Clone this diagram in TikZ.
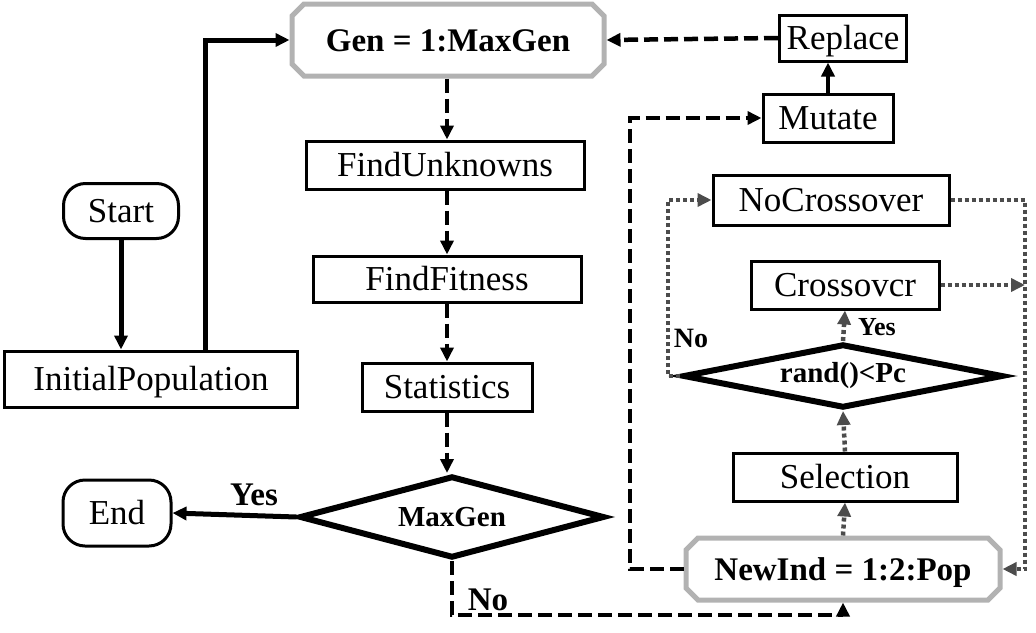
\documentclass[tikz,border=0pt]{standalone}
\usepackage{fontspec}
\setmainfont{Liberation Serif}
\usetikzlibrary{arrows.meta,shapes.geometric,shapes.misc}
\begin{document}
\begin{tikzpicture}[x=1pt,y=-1pt,
  every node/.style={inner sep=0pt, font=\fontsize{35}{40}\selectfont},
  pbox/.style={draw, line width=3pt, rectangle, text height=25pt, text depth=3pt},
  loopbox/.style={chamfered rectangle, chamfered rectangle xsep=6pt, chamfered rectangle ysep=6pt, draw=gray!60, line width=5pt, font=\bfseries\fontsize{33}{38}\selectfont, text height=24pt, text depth=2pt},
  term/.style={draw, line width=3pt, rounded corners=22pt, text height=25pt, text depth=3pt},
  dec/.style={diamond, draw, line width=6pt, font=\bfseries\fontsize{29}{32}\selectfont},
  tip/.style={-{Triangle[length=14pt,width=13pt]}},
  solidarrow/.style={line width=5pt, tip},
  dasharrow/.style={line width=4.5pt, dash pattern=on 14pt off 6pt, tip},
  dotarrow/.style={line width=4.5pt, draw=black!70, dash pattern=on 4pt off 3pt, tip},
  lbl/.style={font=\bfseries\fontsize{33}{36}\selectfont}
]
\useasboundingbox (0,0) rectangle (1036,632);

\node[loopbox, minimum width=312pt, minimum height=72pt] (gen) at (448,40) {Gen = 1:MaxGen};
\node[pbox, minimum width=127pt, minimum height=46pt] (rep) at (843,38) {Replace};
\node[pbox, minimum width=130pt, minimum height=48pt] (mut) at (828,118) {Mutate};
\node[pbox, minimum width=278pt, minimum height=48pt] (fu) at (445,165) {FindUnknowns};
\node[term, minimum width=115pt, minimum height=55pt] (start) at (121,211) {Start};
\node[pbox, minimum width=236pt, minimum height=50pt] (noc) at (831,200) {NoCrossover};
\node[pbox, minimum width=268pt, minimum height=46pt] (ff) at (447,279) {FindFitness};
\node[pbox, minimum width=188pt, minimum height=48pt] (cro) at (845,285) {Crossovcr};
\node[pbox, minimum width=293pt, minimum height=56pt] (ip) at (151,379) {InitialPopulation};
\node[pbox, minimum width=170pt, minimum height=48pt] (st) at (447,387) {Statistics};
\node[dec, aspect=5, minimum width=320pt, minimum height=64pt] (rnd) at (843,376) {rand()<Pc};
\node[pbox, minimum width=224pt, minimum height=48pt] (sel) at (845,477) {Selection};
\node[term, minimum width=108pt, minimum height=66pt] (end) at (117,513) {End};
\node[dec, aspect=3.7, minimum width=305pt, minimum height=82pt] (mg) at (452,517) {MaxGen};
\node[loopbox, minimum width=314pt, minimum height=62pt] (ni) at (843,569) {NewInd = 1:2:Pop};

\coordinate (lx) at (205,0);
\coordinate (cx) at (447,0);
\coordinate (bot) at (0,615);
\coordinate (rx) at (1025,0);
\coordinate (lx2) at (630,0);
\coordinate (nx) at (668,0);

% left part
\draw[solidarrow] (start.south) -- (start.south |- ip.north);
\draw[solidarrow] (ip.north -| lx) |- (gen.west);
\draw[dasharrow] (gen.south -| cx) -- (fu.north -| cx);
\draw[dasharrow] (fu.south -| cx) -- (ff.north -| cx);
\draw[dasharrow] (ff.south -| cx) -- (st.north -| cx);
\draw[dasharrow] (st.south -| cx) -- (mg.north -| cx);
\draw[solidarrow] (mg.west) -- (end.east);
\node[lbl] (yes1) at (254,495) {Yes};
\draw[dasharrow] (mg.south) |- (bot -| ni.south) -- (ni.south);
\node[lbl] (no1) at (488,600) {No};

% right part
\draw[dotarrow] (ni.north) -- (sel.south);
\draw[dotarrow] (sel.north) -- (rnd.south);
\draw[dotarrow] (rnd.north) -- (cro.south);
\node[lbl, font=\bfseries\fontsize{26}{30}\selectfont] (yes2) at (877,327) {Yes};
\draw[dotarrow] (rnd.west) -- (rnd.west -| nx) |- (noc.west);
\node[lbl, font=\bfseries\fontsize{28}{30}\selectfont] (no2) at (691,338) {No};
\draw[dotarrow] (cro.east) -- (cro.east -| rx);
\draw[dotarrow] (noc.east) -| (rx |- ni.east) -- (ni.east);
\draw[dasharrow] (ni.west) -- (ni.west -| lx2) |- (mut.west);
\draw[line width=4pt, tip] (mut.north) -- (mut.north |- rep.south);
\draw[dasharrow] (rep.west) -- (gen.east);
\end{tikzpicture}
\end{document}
